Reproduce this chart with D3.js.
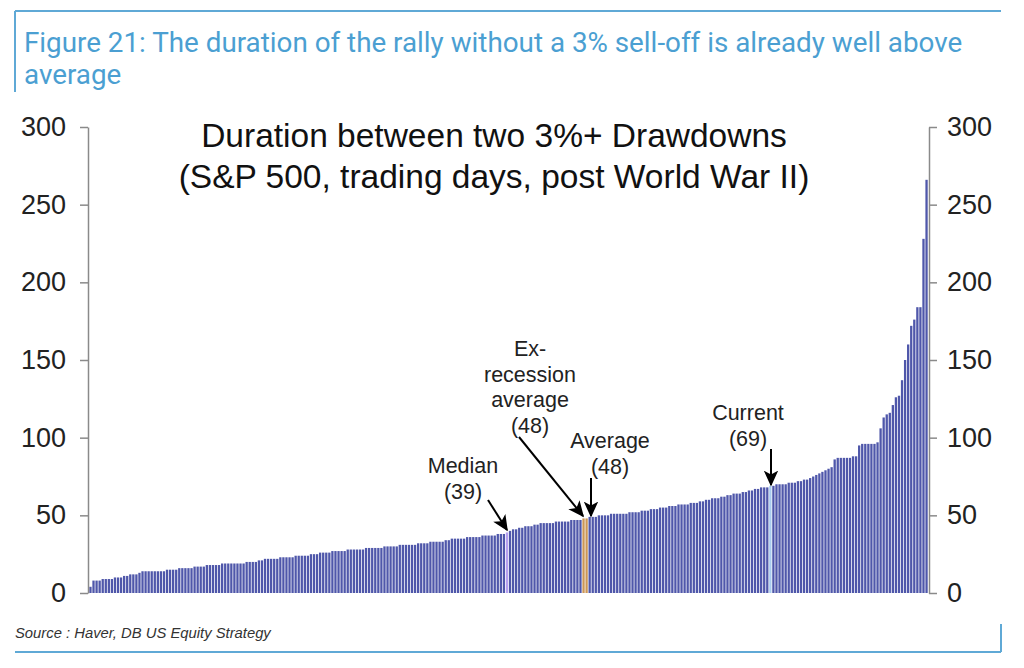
<!DOCTYPE html>
<meta charset="utf-8">
<script src="https://cdn.jsdelivr.net/npm/d3@7/dist/d3.min.js"></script>
<head>
<style>
    body { margin: 0; background: #fff; }
    text { font-family: "Liberation Sans", Arial, sans-serif; }
</style>
</head>
<body>
<script>

    // sorted durations (trading days) between two 3%+ drawdowns
    var durations = [
        4, 8, 8, 8, 9, 9, 9, 9, 10, 10, 10, 11, 11, 12, 12, 12,
        13, 14, 14, 14, 14, 14, 14, 14, 14, 15, 15, 15, 15,
        16, 16, 16, 16, 16, 17, 17, 17, 17, 18, 18, 18, 18, 18,
        19, 19, 19, 19, 19, 19, 19, 19, 20, 20, 20, 20, 21,
        21, 22, 22, 22, 22, 22, 23, 23, 23, 23, 23, 24,
        24, 24, 24, 24, 25, 25, 25, 26, 26, 26, 26, 27,
        27, 27, 27, 27, 28, 28, 28, 28, 28, 28, 29, 29,
        29, 29, 29, 29, 30, 30, 30, 30, 30, 31,
        31, 31, 31, 31, 31, 32, 32, 32, 32, 33, 33, 33, 33, 33,
        34, 34, 35, 35, 35, 35, 35, 36, 36, 36, 36, 36,
        37, 37, 37, 37, 37, 38, 38, 38, 39,
        40, 41, 41, 42, 42, 43, 43, 43, 44,
        44, 45, 45, 45, 45, 45, 46, 46, 46, 46, 46, 47, 47, 47, 47,
        48, 48,
        49, 49, 49, 50, 50, 50, 50, 51, 51, 51, 51, 51, 51, 52, 52,
        52, 52, 53, 53, 53, 54, 54, 54, 55, 55, 55,
        56, 56, 56, 57, 57, 57, 57, 58, 58, 58, 59, 59, 60, 60, 61, 61, 61,
        62, 62, 63, 63, 64, 64, 64, 65, 65, 66, 66, 67, 67, 68, 68, 68,
        69,
        69, 70, 70, 70, 70, 71, 71, 71, 72, 72, 73, 73, 74,
        75, 76, 77, 78, 79, 80, 81,
        86, 87, 87, 87, 87, 87, 88, 88,
        95, 96, 96, 96, 96, 96, 97,
        106, 113, 115, 116, 121, 126, 127, 137, 150, 160, 172, 176, 184, 184, 228, 266
    ];

    // highlighted bars: index -> colour key
    var highlightIdx = [136, 161, 162, 222];
    var highlightKey = ["median", "average", "average", "current"];

    var yTicks = [0, 50, 100, 150, 200, 250, 300];

    var notes = [
        { lines: ["Median", "(39)"], cx: 463, top: 465, from: [488, 500], to: [507, 530] },
        { lines: ["Ex-", "recession", "average", "(48)"], cx: 530, top: 348, from: [519, 437], to: [583, 516] },
        { lines: ["Average", "(48)"], cx: 610, top: 440, from: [591, 478], to: [591, 516] },
        { lines: ["Current", "(69)"], cx: 748, top: 412, from: [771, 449], to: [771, 485] }
    ];

    var W = 1024, H = 668;
    var plotL = 88, plotR = 929, plotT = 127, plotB = 593;

    var barColor = "#4f57aa";
    var hlColor = { median: "#b49ff0", average: "#cc9656", current: "#a9ccf0" };
    var rule = "#5fa9d6";

    var svg = d3.select("body").append("svg")
        .attr("width", W)
        .attr("height", H);

    // frame rules
    svg.append("line")
        .attr("x1", 15).attr("x2", 1001).attr("y1", 11).attr("y2", 11)
        .style("stroke", rule).style("stroke-width", 2);
    svg.append("line")
        .attr("x1", 15).attr("x2", 15).attr("y1", 11).attr("y2", 92)
        .style("stroke", rule).style("stroke-width", 2);
    svg.append("line")
        .attr("x1", 15).attr("x2", 1001).attr("y1", 652).attr("y2", 652)
        .style("stroke", rule).style("stroke-width", 2);
    svg.append("line")
        .attr("x1", 1001).attr("x2", 1001).attr("y1", 624).attr("y2", 652)
        .style("stroke", rule).style("stroke-width", 2);

    // caption
    var cap = svg.append("text")
        .attr("x", 24)
        .attr("y", 52)
        .style("font-family", "Roboto, sans-serif")
        .style("font-size", "27.8px")
        .style("fill", "#4b9fd2");
    cap.append("tspan").attr("x", 24).text("Figure 21: The duration of the rally without a 3% sell-off is already well above");
    cap.append("tspan").attr("x", 24).attr("dy", 32).text("average");

    var x = d3.scaleBand()
        .domain(d3.range(durations.length))
        .range([plotL + 1, plotR - 1])
        .paddingInner(0.25)
        .paddingOuter(0.1);

    var y = d3.scaleLinear()
        .domain([0, 300])
        .range([plotB, plotT]);

    // bars
    svg.append("g")
        .selectAll("rect")
        .data(durations)
        .enter()
        .append("rect")
        .attr("x", function(d, i) { return x(i); })
        .attr("y", function(d) { return y(d); })
        .attr("width", x.bandwidth())
        .attr("height", function(d) { return plotB - y(d); })
        .style("fill", function(d, i) {
            var k = highlightIdx.indexOf(i);
            return k < 0 ? barColor : hlColor[highlightKey[k]];
        });

    // axes
    var yl = svg.append("g")
        .attr("transform", "translate(" + plotL + ",0)")
        .call(d3.axisLeft(y).tickValues(yTicks).tickSize(8).tickSizeOuter(0).tickPadding(14));
    var yr = svg.append("g")
        .attr("transform", "translate(" + plotR + ",0)")
        .call(d3.axisRight(y).tickValues(yTicks).tickSize(8).tickSizeOuter(0).tickPadding(10));

    [yl, yr].forEach(function(g) {
        g.select(".domain").style("stroke", "#8a8a8a").style("stroke-width", 1.5);
        g.selectAll(".tick line").style("stroke", "#8a8a8a").style("stroke-width", 1.5);
        g.selectAll(".tick text")
            .style("font-family", "Liberation Sans, Arial, sans-serif")
            .style("font-size", "27px")
            .style("fill", "#222");
    });

    // chart title
    var ttl = svg.append("text")
        .attr("text-anchor", "middle")
        .style("font-size", "33.5px")
        .style("fill", "#111");
    ttl.append("tspan").attr("x", 494).attr("y", 147).text("Duration between two 3%+ Drawdowns");
    ttl.append("tspan").attr("x", 494).attr("y", 188).text("(S&P 500, trading days, post World War II)");

    // arrow head
    svg.append("defs").append("marker")
        .attr("id", "head")
        .attr("viewBox", "0 0 10 10")
        .attr("refX", 9)
        .attr("refY", 5)
        .attr("markerWidth", 8)
        .attr("markerHeight", 8)
        .attr("markerUnits", "strokeWidth")
        .attr("orient", "auto")
        .append("path")
        .attr("d", "M0,0.5 L10,5 L0,9.5 L2.5,5 Z")
        .style("fill", "#000");

    // annotations
    notes.forEach(function(n) {
        var t = svg.append("text")
            .attr("text-anchor", "middle")
            .style("font-size", "21.5px")
            .style("fill", "#222");
        n.lines.forEach(function(l, i) {
            t.append("tspan")
                .attr("x", n.cx)
                .attr("y", n.top + 8 + i * 25.5)
                .text(l);
        });
        svg.append("line")
            .attr("x1", n.from[0]).attr("y1", n.from[1])
            .attr("x2", n.to[0]).attr("y2", n.to[1])
            .style("stroke", "#000")
            .style("stroke-width", 2)
            .attr("marker-end", "url(#head)");
    });

    // source
    svg.append("text")
        .attr("x", 15)
        .attr("y", 638)
        .style("font-size", "14.8px")
        .style("font-style", "italic")
        .style("fill", "#333")
        .text("Source : Haver, DB US Equity Strategy");

</script>
</body>
</html>
